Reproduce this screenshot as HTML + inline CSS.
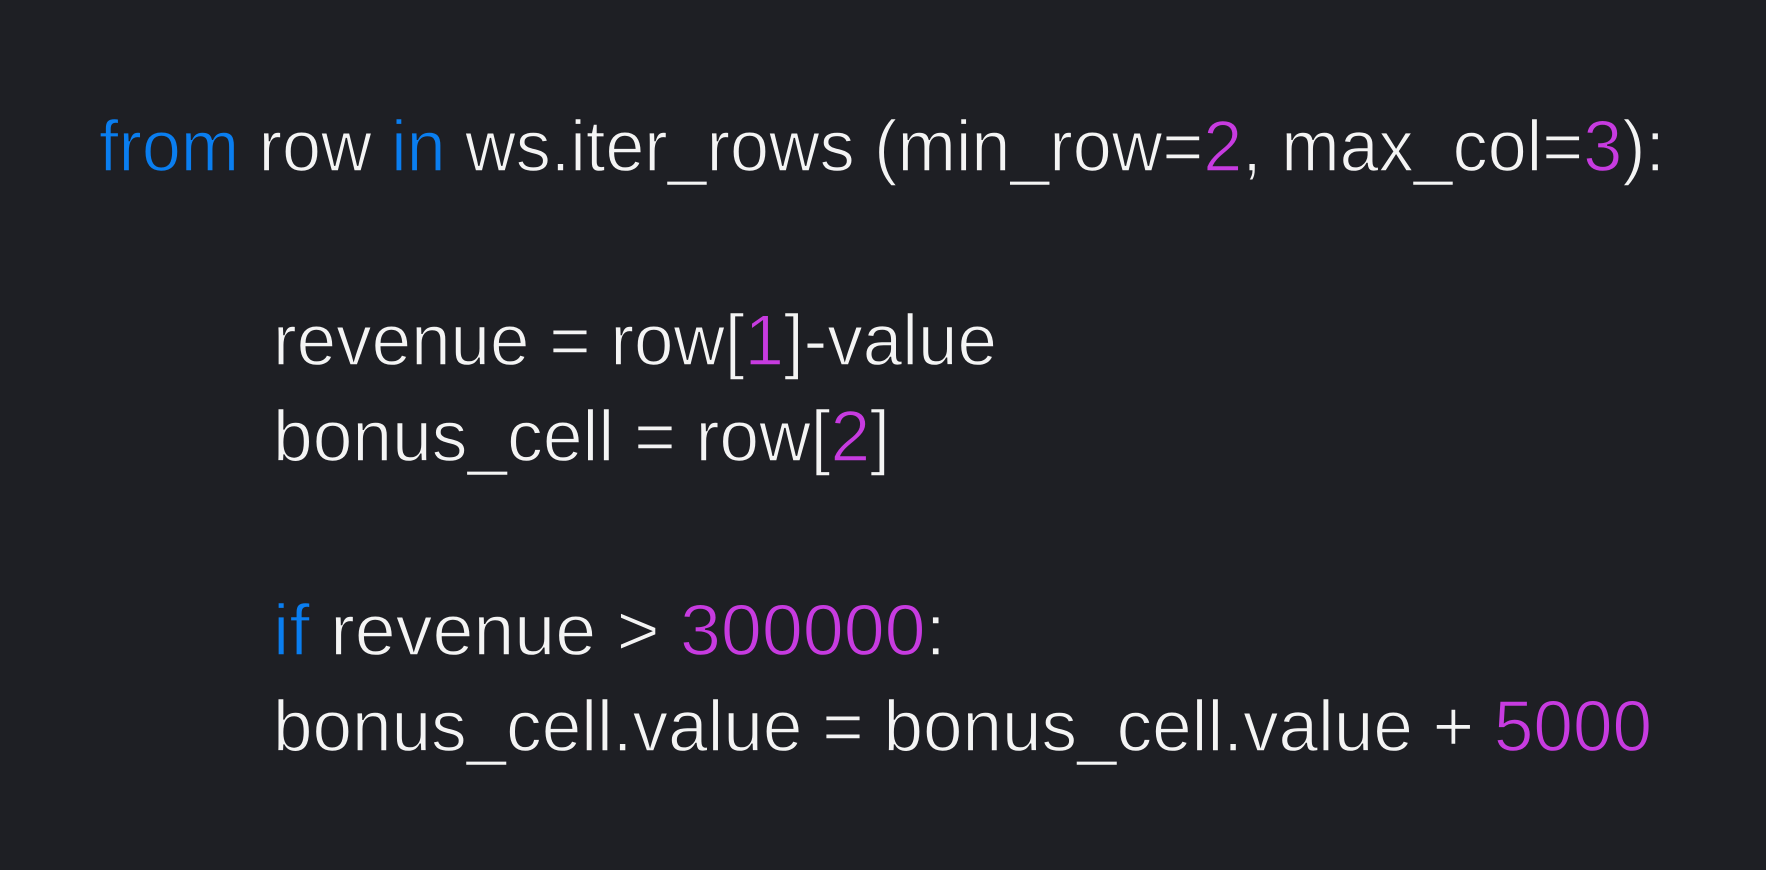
<!DOCTYPE html>
<html><head><style>
html,body{margin:0;padding:0;background:#1e1f24;}
svg{display:block}
text{font-family:"Liberation Sans",sans-serif;font-size:72px;fill:#f4f4f4;stroke:#1e1f24;stroke-width:1.4px;paint-order:fill stroke;}
.k{fill:#0a7ef0}.n{fill:#c73be0}
</style></head><body>
<svg width="1766" height="870" viewBox="0 0 1766 870">
<rect width="1766" height="870" fill="#1e1f24"/>
<text x="99" y="171" textLength="1566" lengthAdjust="spacingAndGlyphs"><tspan class="k">from</tspan> row <tspan class="k">in</tspan> ws.iter_rows (min_row=<tspan class="n">2</tspan>, max_col=<tspan class="n">3</tspan>):</text>
<text x="273" y="365" textLength="724" lengthAdjust="spacingAndGlyphs">revenue = row[<tspan class="n">1</tspan>]-value</text>
<text x="273" y="461" textLength="617" lengthAdjust="spacingAndGlyphs">bonus_cell = row[<tspan class="n">2</tspan>]</text>
<text x="273" y="655" textLength="673" lengthAdjust="spacingAndGlyphs"><tspan class="k">if</tspan> revenue &gt; <tspan class="n">300000</tspan>:</text>
<text x="273" y="751" textLength="1379" lengthAdjust="spacingAndGlyphs">bonus_cell.value = bonus_cell.value + <tspan class="n">5000</tspan></text>
</svg>
</body></html>
